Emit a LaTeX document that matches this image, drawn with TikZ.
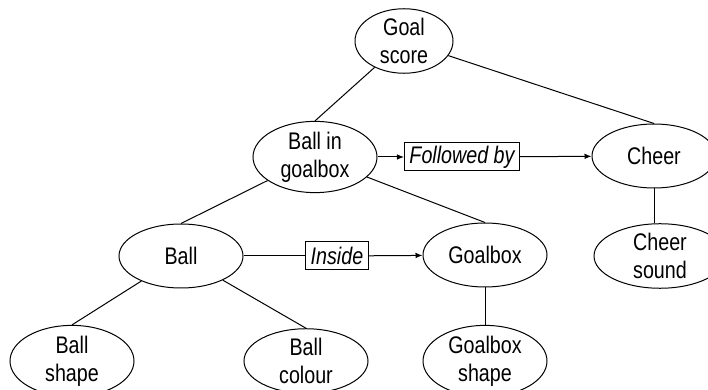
\documentclass[tikz,border=0pt]{standalone}
\usepackage{fontspec}
\setmainfont{Liberation Sans}[FakeStretch=0.82]
\usepackage{tikz}
\usetikzlibrary{arrows.meta, shapes.geometric}

\begin{document}
\begin{tikzpicture}[
    x=0.5pt, y=-0.5pt,
    every node/.style={font=\fontsize{12}{14}\selectfont},
    oval/.style={draw, ellipse, line width=0.5pt, inner sep=0pt,
        minimum width=62pt, minimum height=32pt, align=center},
    relbox/.style={draw, rectangle, line width=0.5pt, inner xsep=2.5pt,
        inner ysep=0pt, minimum height=14pt, font=\fontsize{12}{14}\selectfont\itshape},
    link/.style={line width=0.5pt},
    relarrow/.style={line width=0.5pt, -{Latex[length=3.5pt, width=2.8pt]}},
]
    \useasboundingbox (0,0) rectangle (708,390);

    % Nodes
    \node[oval, minimum width=49pt, minimum height=31.5pt] (goalscore) at (404,41) {Goal\\score};
    \node[oval] (ingoalbox) at (315,157) {Ball in\\goalbox};
    \node[oval] (cheer) at (654,156) {Cheer};
    \node[oval, minimum width=66pt] (cheersound) at (660,256) {Cheer\\sound};
    \node[oval] (ball) at (181,256) {Ball};
    \node[oval] (goalbox) at (485,255) {Goalbox};
    \node[oval] (ballshape) at (72,361) {Ball\\shape};
    \node[oval] (ballcolour) at (306,361) {Ball\\colour};
    \node[oval] (goalboxshape) at (485,361) {Goalbox\\shape};

    % Relation boxes
    \node[relbox] (followed) at (462,157) {Followed by};
    \node[relbox] (inside) at (337,256) {Inside};

    % Tree links
    \draw[link] (goalscore) -- (ingoalbox.north);
    \draw[link] (goalscore) -- (cheer.north);
    \draw[link] (ingoalbox) -- (ball.north);
    \draw[link] (ingoalbox) -- (goalbox.north);
    \draw[link] (ball) -- (ballshape.north);
    \draw[link] (ball) -- (ballcolour.north);
    \draw[link] (goalbox) -- (goalboxshape.north);
    \draw[link] (cheer) -- (cheer |- cheersound.north);

    % Relations
    \draw[relarrow] (ingoalbox) -- (followed);
    \draw[relarrow] (followed) -- (cheer);
    \draw[link] (ball) -- (inside);
    \draw[relarrow] (inside) -- (goalbox);
\end{tikzpicture}
\end{document}
